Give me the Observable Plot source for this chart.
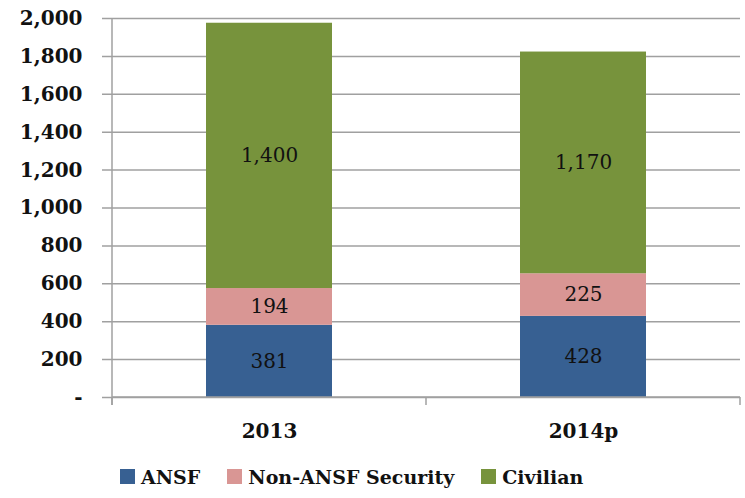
<!DOCTYPE html>
<html>
<head>
<meta charset="utf-8">
<script src="https://cdn.jsdelivr.net/npm/d3@7"></script>
<script src="https://cdn.jsdelivr.net/npm/@observablehq/plot@0.6"></script>
<style>
  html, body { margin: 0; padding: 0; background: #fff; }
  #chart { width: 745px; }
  .legend { display: flex; justify-content: flex-start; align-items: center; height: 43px; padding-left: 120px;
            font-family: "DejaVu Serif", serif; font-weight: bold; font-size: 19px; color: #111; }
  .legend .item { display: flex; align-items: center; margin-right: 27px; }
  .legend .sw { width: 15px; height: 15px; margin-right: 6px; display: inline-block; }
</style>
</head>
<body>
<div id="chart"></div>
<script>
const years = ["2013", "2014p"];
const seriesNames = ["ANSF", "Non-ANSF Security", "Civilian"];
const ansf = [381, 428];
const nonAnsf = [194, 225];
const civilian = [1400, 1170];
const seriesColors = ["#376092", "#D99694", "#77933C"];
const yTicks = [0, 200, 400, 600, 800, 1000, 1200, 1400, 1600, 1800, 2000];

const valuesBySeries = [ansf, nonAnsf, civilian];
const data = [];
seriesNames.forEach((s, si) => {
  years.forEach((yr, yi) => data.push({year: yr, series: s, value: valuesBySeries[si][yi]}));
});

const font = "DejaVu Serif, serif";
const chart = Plot.plot({
  width: 745,
  height: 455,
  marginTop: 18,
  marginLeft: 112,
  marginRight: 5,
  marginBottom: 58,
  style: {fontFamily: font, fontSize: "20px", background: "#fff", color: "#111"},
  x: {domain: years, paddingInner: 0.6, paddingOuter: 0.3, label: null},
  y: {domain: [0, 2000], label: null},
  color: {domain: seriesNames, range: seriesColors},
  marks: [
    Plot.ruleY(yTicks, {stroke: "#a0a0a0", strokeWidth: 1.5, insetLeft: -10}),
    Plot.barY(data, {x: "year", y: "value", fill: "series", order: seriesNames}),
    Plot.text(data, Plot.stackY({x: "year", y: "value", z: "series", order: seriesNames,
      text: d => d3.format(",")(d.value), fill: "#111", fontSize: 20})),
    Plot.axisY({ticks: yTicks, tickSize: 0, tickPadding: 30, fontWeight: "bold", fontSize: 20,
      tickFormat: d => d === 0 ? "-" : d3.format(",")(d)}),
    Plot.axisX({tickSize: 0, tickPadding: 26, fontWeight: "bold", fontSize: 20})
  ]
});
document.getElementById("chart").appendChild(chart);

// Axis lines and band-boundary ticks from the plot's own scales
const xs = chart.scale("x");
const ys = chart.scale("y");
const svg = d3.select(chart);
const y0 = ys.apply(0), yTop = ys.apply(2000);
const g = svg.append("g").attr("stroke", "#a0a0a0").attr("stroke-width", 1.5);
const x0 = xs.range[0], x1 = xs.range[1];
g.append("line").attr("x1", x0).attr("x2", x0).attr("y1", yTop).attr("y2", y0 + 8);
g.append("line").attr("x1", x0).attr("x2", x1).attr("y1", y0).attr("y2", y0);
const bounds = [x0, (xs.apply(years[0]) + xs.apply(years[1]) + xs.bandwidth) / 2, x1];
bounds.forEach(b => g.append("line").attr("x1", b).attr("x2", b).attr("y1", y0).attr("y2", y0 + 8));

const legend = document.createElement("div");
legend.className = "legend";
seriesNames.forEach((s, i) => {
  const it = document.createElement("div");
  it.className = "item";
  const sw = document.createElement("span");
  sw.className = "sw";
  sw.style.background = seriesColors[i];
  it.appendChild(sw);
  it.appendChild(document.createTextNode(s));
  legend.appendChild(it);
});
document.getElementById("chart").appendChild(legend);
</script>
</body>
</html>
